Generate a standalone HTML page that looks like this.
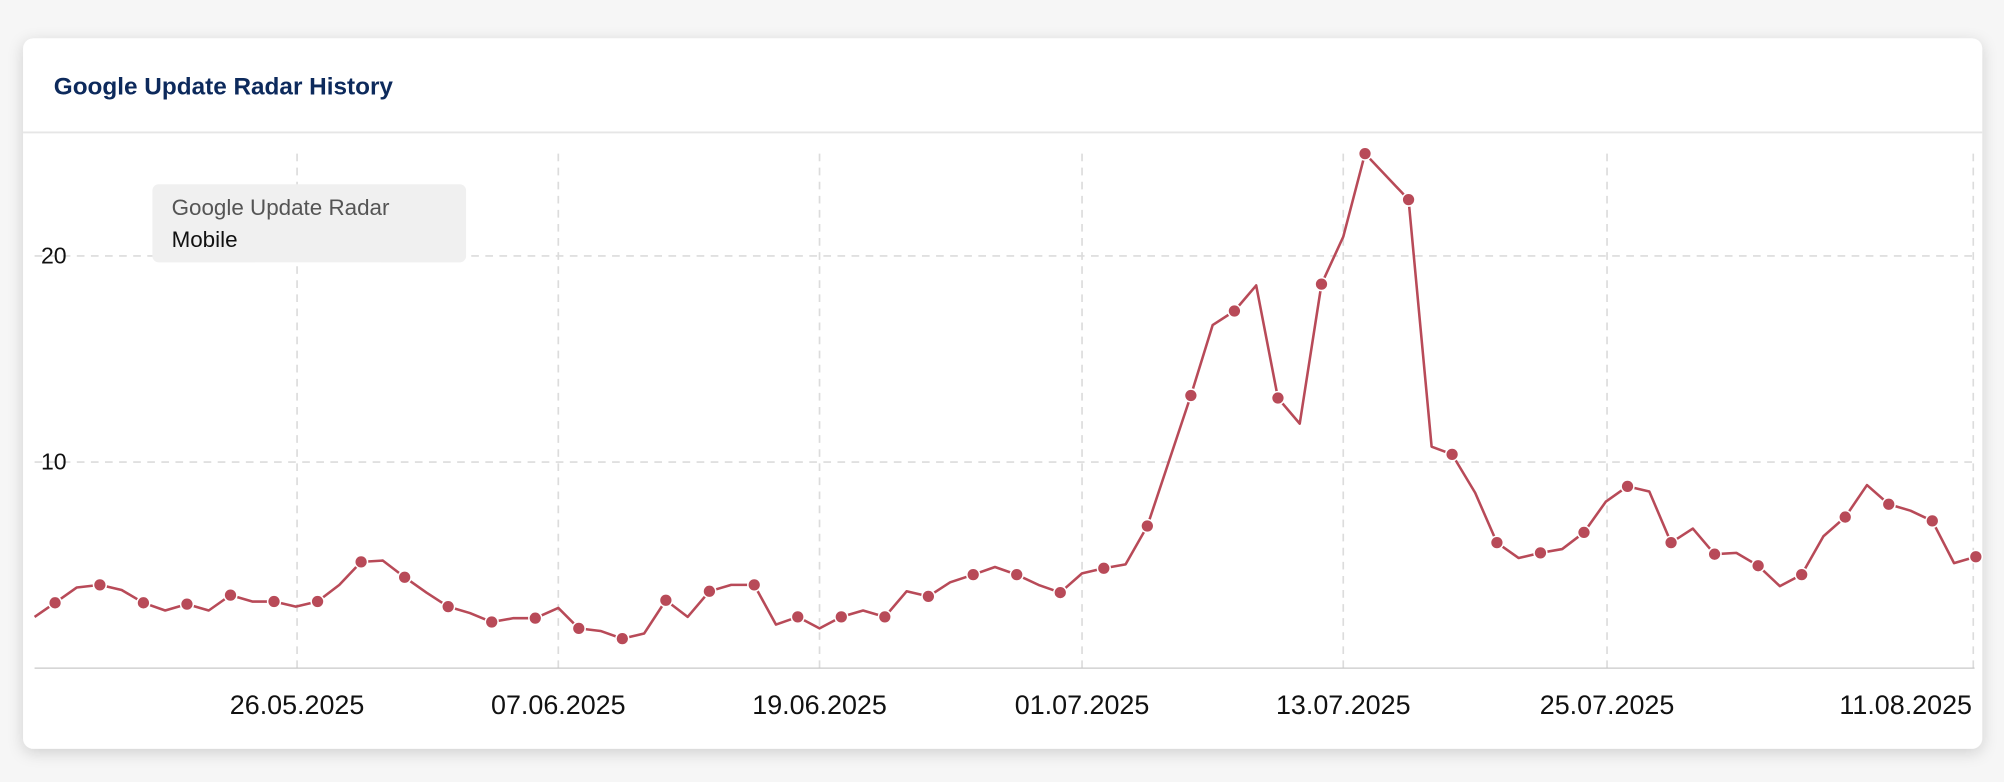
<!DOCTYPE html>
<html><head><meta charset="utf-8"><style>
html,body{margin:0;padding:0;background:#f6f6f6;width:2004px;height:782px;overflow:hidden}
svg{display:block;font-family:"Liberation Sans",sans-serif}
</style></head><body>
<svg width="2004" height="782" viewBox="0 0 1565 611" preserveAspectRatio="none">
<defs><filter id="sh" x="-5%" y="-5%" width="110%" height="120%"><feDropShadow dx="0" dy="3" stdDeviation="6" flood-color="#000" flood-opacity="0.16"/></filter></defs>
<rect x="0" y="0" width="1565" height="611" fill="#f6f6f6"/>
<rect x="18" y="30" width="1530" height="555" rx="8" fill="#fff" filter="url(#sh)"/>
<text x="42" y="74" font-size="19" font-weight="bold" fill="#0d2a5c">Google Update Radar History</text>
<line x1="18" y1="103.5" x2="1548" y2="103.5" stroke="#e6e6e6" stroke-width="1.5"/>
<g stroke="#dcdcdc" stroke-width="1.3" stroke-dasharray="6,5">
<line x1="27" y1="200" x2="1542" y2="200"/><line x1="27" y1="361" x2="1542" y2="361"/>
<line x1="232" y1="120" x2="232" y2="522"/><line x1="436" y1="120" x2="436" y2="522"/>
<line x1="640" y1="120" x2="640" y2="522"/><line x1="845" y1="120" x2="845" y2="522"/>
<line x1="1049" y1="120" x2="1049" y2="522"/><line x1="1255" y1="120" x2="1255" y2="522"/>
<line x1="1541" y1="120" x2="1541" y2="522"/>
</g>
<line x1="27" y1="522" x2="1542" y2="522" stroke="#c8c8c8" stroke-width="1"/>
<g font-size="18" fill="#111">
<text x="32" y="206">20</text><text x="32" y="367">10</text>
</g>
<g font-size="21" fill="#111" text-anchor="middle">
<text x="232" y="558">26.05.2025</text><text x="436" y="558">07.06.2025</text><text x="640" y="558">19.06.2025</text><text x="845" y="558">01.07.2025</text><text x="1049" y="558">13.07.2025</text><text x="1255" y="558">25.07.2025</text><text x="1540" y="558" text-anchor="end">11.08.2025</text>
</g>
<rect x="119" y="144" width="245" height="61" rx="5" fill="#f0f0f0"/>
<text x="134" y="168" font-size="17.5" fill="#555">Google Update Radar</text>
<text x="134" y="193" font-size="17.5" fill="#111">Mobile</text>
<polyline fill="none" stroke="#b84a58" stroke-width="2" stroke-linejoin="round" points="27,482 43,471 60,459 78,457 95,461 112,471 129,477 146,472 163,477 180,465 197,470 214,470 231,474 248,470 265,457 282,439 299,438 316,451 333,463 350,474 367,479 384,486 401,483 418,483 436,475 452,491 469,493 486,499 503,495 520,469 537,482 554,462 571,457 589,457 606,488 623,482 640,491 657,482 674,477 691,482 708,462 725,466 742,455 760,449 777,443 794,449 811,457 828,463 845,448 862,444 879,441 896,411 913,360 930,309 947,254 964,243 981,223 998,311 1015,331 1032,222 1049,185 1066,120 1083,138 1100,156 1118,349 1134,355 1152,385 1169,424 1186,436 1203,432 1220,429 1237,416 1254,392 1271,380 1288,384 1305,424 1322,413 1339,433 1356,432 1373,442 1390,458 1407,449 1424,419 1441,404 1458,379 1475,394 1492,399 1509,407 1526,440 1543,435"/>
<g fill="#b84a58" stroke="#fff" stroke-width="1.2">
<circle cx="43" cy="471" r="5"/><circle cx="78" cy="457" r="5"/><circle cx="112" cy="471" r="5"/><circle cx="146" cy="472" r="5"/><circle cx="180" cy="465" r="5"/><circle cx="214" cy="470" r="5"/><circle cx="248" cy="470" r="5"/><circle cx="282" cy="439" r="5"/><circle cx="316" cy="451" r="5"/><circle cx="350" cy="474" r="5"/><circle cx="384" cy="486" r="5"/><circle cx="418" cy="483" r="5"/><circle cx="452" cy="491" r="5"/><circle cx="486" cy="499" r="5"/><circle cx="520" cy="469" r="5"/><circle cx="554" cy="462" r="5"/><circle cx="589" cy="457" r="5"/><circle cx="623" cy="482" r="5"/><circle cx="657" cy="482" r="5"/><circle cx="691" cy="482" r="5"/><circle cx="725" cy="466" r="5"/><circle cx="760" cy="449" r="5"/><circle cx="794" cy="449" r="5"/><circle cx="828" cy="463" r="5"/><circle cx="862" cy="444" r="5"/><circle cx="896" cy="411" r="5"/><circle cx="930" cy="309" r="5"/><circle cx="964" cy="243" r="5"/><circle cx="998" cy="311" r="5"/><circle cx="1032" cy="222" r="5"/><circle cx="1066" cy="120" r="5"/><circle cx="1100" cy="156" r="5"/><circle cx="1134" cy="355" r="5"/><circle cx="1169" cy="424" r="5"/><circle cx="1203" cy="432" r="5"/><circle cx="1237" cy="416" r="5"/><circle cx="1271" cy="380" r="5"/><circle cx="1305" cy="424" r="5"/><circle cx="1339" cy="433" r="5"/><circle cx="1373" cy="442" r="5"/><circle cx="1407" cy="449" r="5"/><circle cx="1441" cy="404" r="5"/><circle cx="1475" cy="394" r="5"/><circle cx="1509" cy="407" r="5"/><circle cx="1543" cy="435" r="5"/>
</g>
</svg>
</body></html>
